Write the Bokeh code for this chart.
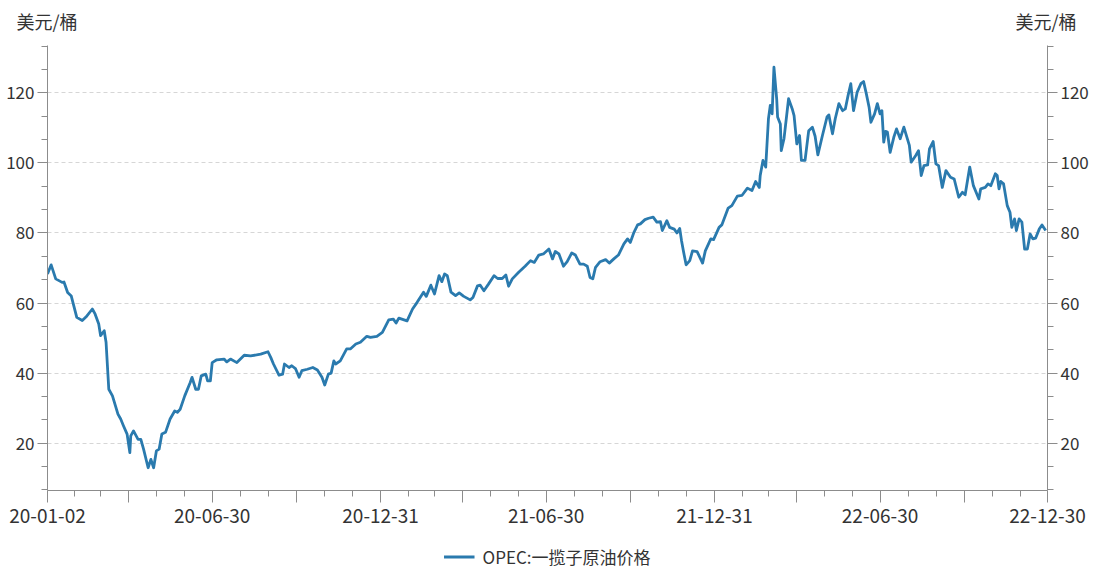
import pandas as pd
from bokeh.plotting import figure
from bokeh.layouts import column
from bokeh.models import (ColumnDataSource, LinearAxis, Range1d, FixedTicker,
                          CustomJSTickFormatter, Legend, LegendItem)
from bokeh.embed import file_html
from bokeh.resources import INLINE

# ---------------- data ----------------
start_date = "2020-01-02"
end_date = "2022-12-30"
series_name = "OPEC:一揽子原油价格"
unit_label = "美元/桶"

day_offsets = [
    0, 4, 9, 16, 18, 22, 26, 32, 38, 42,
    49, 52, 56, 58, 62, 64, 67, 71, 77, 80,
    83, 87, 90, 91, 94, 99, 102, 105, 110, 113,
    116, 119, 122, 125, 129, 134, 139, 142, 145, 150,
    156, 158, 162, 165, 168, 173, 175, 178, 180, 185,
    193, 196, 200, 207, 215, 222, 233, 241, 244, 247,
    253, 257, 259, 264, 267, 271, 275, 278, 284, 290,
    295, 300, 303, 307, 310, 313, 315, 320, 327, 331,
    337, 342, 349, 353, 360, 366, 373, 378, 381, 384,
    393, 399, 404, 411, 414, 419, 423, 428, 431, 434,
    437, 441, 446, 450, 455, 462, 465, 470, 473, 477,
    482, 488, 492, 497, 501, 504, 508, 515, 522, 528,
    532, 537, 542, 548, 552, 555, 559, 564, 568, 573,
    577, 582, 586, 590, 593, 596, 599, 604, 610, 614,
    619, 624, 630, 634, 637, 641, 645, 648, 653, 657,
    662, 666, 670, 672, 677, 680, 685, 688, 691, 693,
    695, 698, 702, 705, 710, 716, 719, 725, 728, 734,
    737, 744, 748, 754, 759, 765, 770, 774, 778, 779,
    782, 785, 788, 790, 792, 794, 797, 798, 801, 802,
    805, 810, 814, 816, 819, 822, 824, 828, 832, 836,
    839, 842, 847, 852, 854, 858, 861, 865, 869, 872,
    875, 878, 881, 885, 889, 892, 895, 898, 900, 904,
    907, 910, 912, 914, 916, 918, 921, 925, 928, 932,
    936, 942, 944, 949, 952, 955, 958, 962, 964, 968,
    971, 974, 978, 982, 987, 991, 996, 1000, 1003, 1008,
    1012, 1018, 1020, 1025, 1028, 1031, 1036, 1038, 1040, 1042,
    1045, 1049, 1052, 1054, 1057, 1059, 1062, 1065, 1068, 1071,
    1074, 1077, 1080, 1084, 1087, 1091,
]

prices = [
    68.3, 70.9, 66.9, 65.9, 66.0, 63.0, 62.0, 55.9, 55.0, 56.0,
    58.3, 56.9, 54.0, 50.7, 52.1, 48.8, 35.4, 33.5, 28.3, 26.9,
    25.0, 22.6, 17.3, 22.1, 23.5, 21.1, 21.1, 18.3, 13.0, 15.4,
    13.0, 17.8, 18.3, 22.6, 23.1, 26.9, 29.2, 28.8, 29.7, 33.5,
    37.3, 38.8, 35.4, 35.4, 39.2, 39.7, 37.8, 37.8, 43.0, 43.8,
    44.0, 43.2, 44.0, 43.0, 45.1, 44.9, 45.4, 46.1, 44.5, 42.6,
    39.4, 39.7, 42.6, 41.6, 42.1, 41.3, 38.8, 40.7, 41.1, 41.6,
    40.9, 38.8, 36.6, 39.7, 40.0, 43.5, 42.6, 43.5, 46.9, 46.9,
    48.3, 48.8, 50.5, 50.2, 50.5, 51.6, 55.2, 55.4, 54.3, 55.7,
    54.9, 58.3, 60.2, 63.1, 61.9, 65.1, 62.6, 67.8, 66.1, 68.3,
    67.8, 63.1, 62.1, 62.9, 61.9, 60.9, 61.6, 64.9, 65.1, 63.5,
    65.4, 67.8, 67.0, 67.0, 68.0, 64.8, 66.9, 68.8, 70.5, 72.1,
    71.6, 73.7, 74.0, 75.4, 72.6, 74.7, 74.0, 70.5, 71.8, 74.3,
    73.7, 71.1, 71.1, 70.5, 67.3, 66.9, 70.2, 71.8, 72.4, 71.4,
    72.6, 73.7, 76.9, 78.3, 77.3, 80.2, 82.3, 82.6, 83.8, 84.2,
    84.5, 83.1, 83.2, 80.7, 83.5, 81.6, 81.1, 80.0, 81.3, 77.8,
    74.9, 70.9, 72.1, 74.9, 74.7, 71.4, 74.9, 78.3, 78.1, 81.6,
    82.3, 87.1, 87.8, 90.5, 90.7, 92.8, 92.1, 94.7, 93.0, 96.4,
    100.7, 98.8, 112.6, 116.4, 114.0, 127.3, 118.3, 113.1, 111.1, 103.5,
    106.9, 118.3, 115.4, 113.5, 105.4, 107.8, 100.7, 100.7, 109.2, 110.2,
    107.6, 102.3, 107.8, 113.1, 113.7, 108.3, 112.6, 116.9, 114.9, 115.4,
    119.2, 122.6, 114.9, 120.2, 122.6, 123.2, 119.7, 115.9, 111.6, 114.0,
    116.9, 114.0, 114.9, 105.9, 109.0, 108.8, 103.0, 107.3, 109.7, 106.9,
    110.2, 105.0, 100.2, 102.1, 103.5, 96.4, 99.2, 99.4, 104.0, 106.1,
    99.7, 99.2, 93.0, 97.8, 95.9, 95.4, 90.2, 91.6, 90.9, 98.8,
    93.5, 89.7, 92.6, 93.0, 94.0, 93.5, 96.9, 96.4, 92.6, 94.7,
    94.0, 87.8, 85.9, 81.6, 84.0, 80.7, 84.0, 83.1, 75.4, 75.4,
    79.7, 78.3, 78.5, 81.1, 82.3, 80.7,
]

# x tick dates: labelled half-year ticks, quarter ticks, month-end minor ticks
label_dates = ["2020-01-02", "2020-06-30", "2020-12-31", "2021-06-30",
               "2021-12-31", "2022-06-30", "2022-12-30"]
quarter_dates = ["2020-01-02", "2020-03-31", "2020-06-30", "2020-09-30",
                 "2020-12-31", "2021-03-31", "2021-06-30", "2021-09-30",
                 "2021-12-31", "2022-03-31", "2022-06-30", "2022-09-30",
                 "2022-12-30"]
y_ticks = [20, 40, 60, 80, 100, 120]

# ---------------- build ----------------
def ms(d):
    return float(pd.Timestamp(d).value // 10**6)

dates = pd.Timestamp(start_date) + pd.to_timedelta(day_offsets, unit="D")
src = ColumnDataSource(dict(date=dates, price=prices))

TXT = "#333333"
AX = "#8c8c8c"
LINE = "#2a7aae"
FONT = "Noto Sans CJK SC"

W = 1093
TOP_H = 45       # strip with the unit labels
MAIN_H = 498     # chart with axes
BOT_H = 569 - TOP_H - MAIN_H   # strip with the legend
BL, BR = 47, 46  # left/right borders of the plotting frame

x_start, x_end = ms(start_date), ms(end_date)

# ---- main chart ----
y0, y1 = 6.5, 133.5
p = figure(width=W, height=MAIN_H, x_axis_type="datetime",
           x_range=Range1d(x_start, x_end), y_range=Range1d(y0, y1),
           output_backend="svg", toolbar_location=None,
           min_border_left=BL, min_border_right=BR,
           min_border_top=0, min_border_bottom=MAIN_H - 445,
           background_fill_color="white", border_fill_color="white")
p.outline_line_color = None
p.xgrid.visible = False

r = p.line("date", "price", source=src, line_color=LINE, line_width=2.8,
           line_join="round")

month_ticks = [ms(d) for d in pd.date_range("2020-01-31", "2022-11-30", freq="ME")]
x_ticker = FixedTicker(ticks=[ms(d) for d in quarter_dates], minor_ticks=month_ticks)
label_map = {str(int(ms(d))): pd.Timestamp(d).strftime("%y-%m-%d") for d in label_dates}
xa = p.xaxis[0]
xa.ticker = x_ticker
xa.formatter = CustomJSTickFormatter(args=dict(labels=label_map), code="""
const k = String(Math.round(tick));
return (k in labels) ? labels[k] : '';
""")
xa.axis_line_color = AX
xa.major_tick_line_color = AX
xa.minor_tick_line_color = AX
xa.major_tick_out = 12
xa.major_tick_in = 0
xa.minor_tick_out = 6
xa.minor_tick_in = 0
xa.major_label_standoff = 6
xa.major_label_text_font = FONT
xa.major_label_text_font_size = "19px"
xa.major_label_text_color = TXT

minor_y = [t + k * 20 / 3 for t in range(0, 140, 20) for k in (1, 2)]
y_ticker = FixedTicker(ticks=y_ticks, minor_ticks=minor_y)

def style_y(ax):
    ax.ticker = y_ticker
    ax.axis_line_color = AX
    ax.major_tick_line_color = AX
    ax.minor_tick_line_color = AX
    ax.major_tick_out = 10
    ax.major_tick_in = 0
    ax.minor_tick_out = 6
    ax.minor_tick_in = 0
    ax.major_label_standoff = 3
    ax.major_label_text_font = FONT
    ax.major_label_text_font_size = "17px"
    ax.major_label_text_color = TXT

style_y(p.yaxis[0])
ry = LinearAxis()
style_y(ry)
p.add_layout(ry, "right")

p.ygrid.ticker = y_ticker
p.ygrid.grid_line_color = "#d6d6d6"
p.ygrid.grid_line_dash = "4 3"
p.ygrid.grid_line_width = 1

# ---- top strip: unit labels centred over both value axes ----
top = figure(width=W, height=TOP_H, x_axis_type=None, y_axis_type=None,
             x_range=Range1d(x_start, x_end), y_range=Range1d(0, 1),
             output_backend="svg", toolbar_location=None,
             min_border_left=BL, min_border_right=BR,
             min_border_top=0, min_border_bottom=5,
             outline_line_color=None,
             background_fill_color="white", border_fill_color="white")
top.grid.visible = False

def unit_axis(standoff):
    return LinearAxis(ticker=FixedTicker(ticks=[]), axis_label=unit_label,
                      axis_label_orientation="horizontal",
                      axis_label_standoff=standoff,
                      axis_line_color=None, major_tick_line_color=None,
                      minor_tick_line_color=None, major_tick_out=0,
                      major_tick_in=0, minor_tick_out=0, minor_tick_in=0,
                      major_label_standoff=0,
                      axis_label_text_font=FONT,
                      axis_label_text_font_size="18px",
                      axis_label_text_font_style="normal",
                      axis_label_text_color=TXT)

top.add_layout(unit_axis(-30), "left")
top.add_layout(unit_axis(-32), "right")

# ---- bottom strip: legend ----
bot = figure(width=W, height=BOT_H, x_axis_type=None, y_axis_type=None,
             x_range=Range1d(x_start, x_end), y_range=Range1d(1000, 1001),
             output_backend="svg", toolbar_location=None,
             min_border=0, outline_line_color=None,
             background_fill_color="white", border_fill_color="white")
bot.grid.visible = False
# same series (outside this strip's visible range) only to feed the legend glyph
r_leg = bot.line("date", "price", source=src, line_color=LINE, line_width=3)
legend = Legend(items=[LegendItem(label=series_name, renderers=[r_leg])],
                location="center", orientation="horizontal",
                border_line_color=None, background_fill_alpha=0,
                label_text_font=FONT, label_text_font_size="17px",
                label_text_color=TXT, glyph_width=31, glyph_height=16,
                margin=0, padding=2, label_standoff=8)
bot.add_layout(legend, "center")

layout = column(top, p, bot, spacing=0)
open("out.html", "w").write(file_html(layout, INLINE))
